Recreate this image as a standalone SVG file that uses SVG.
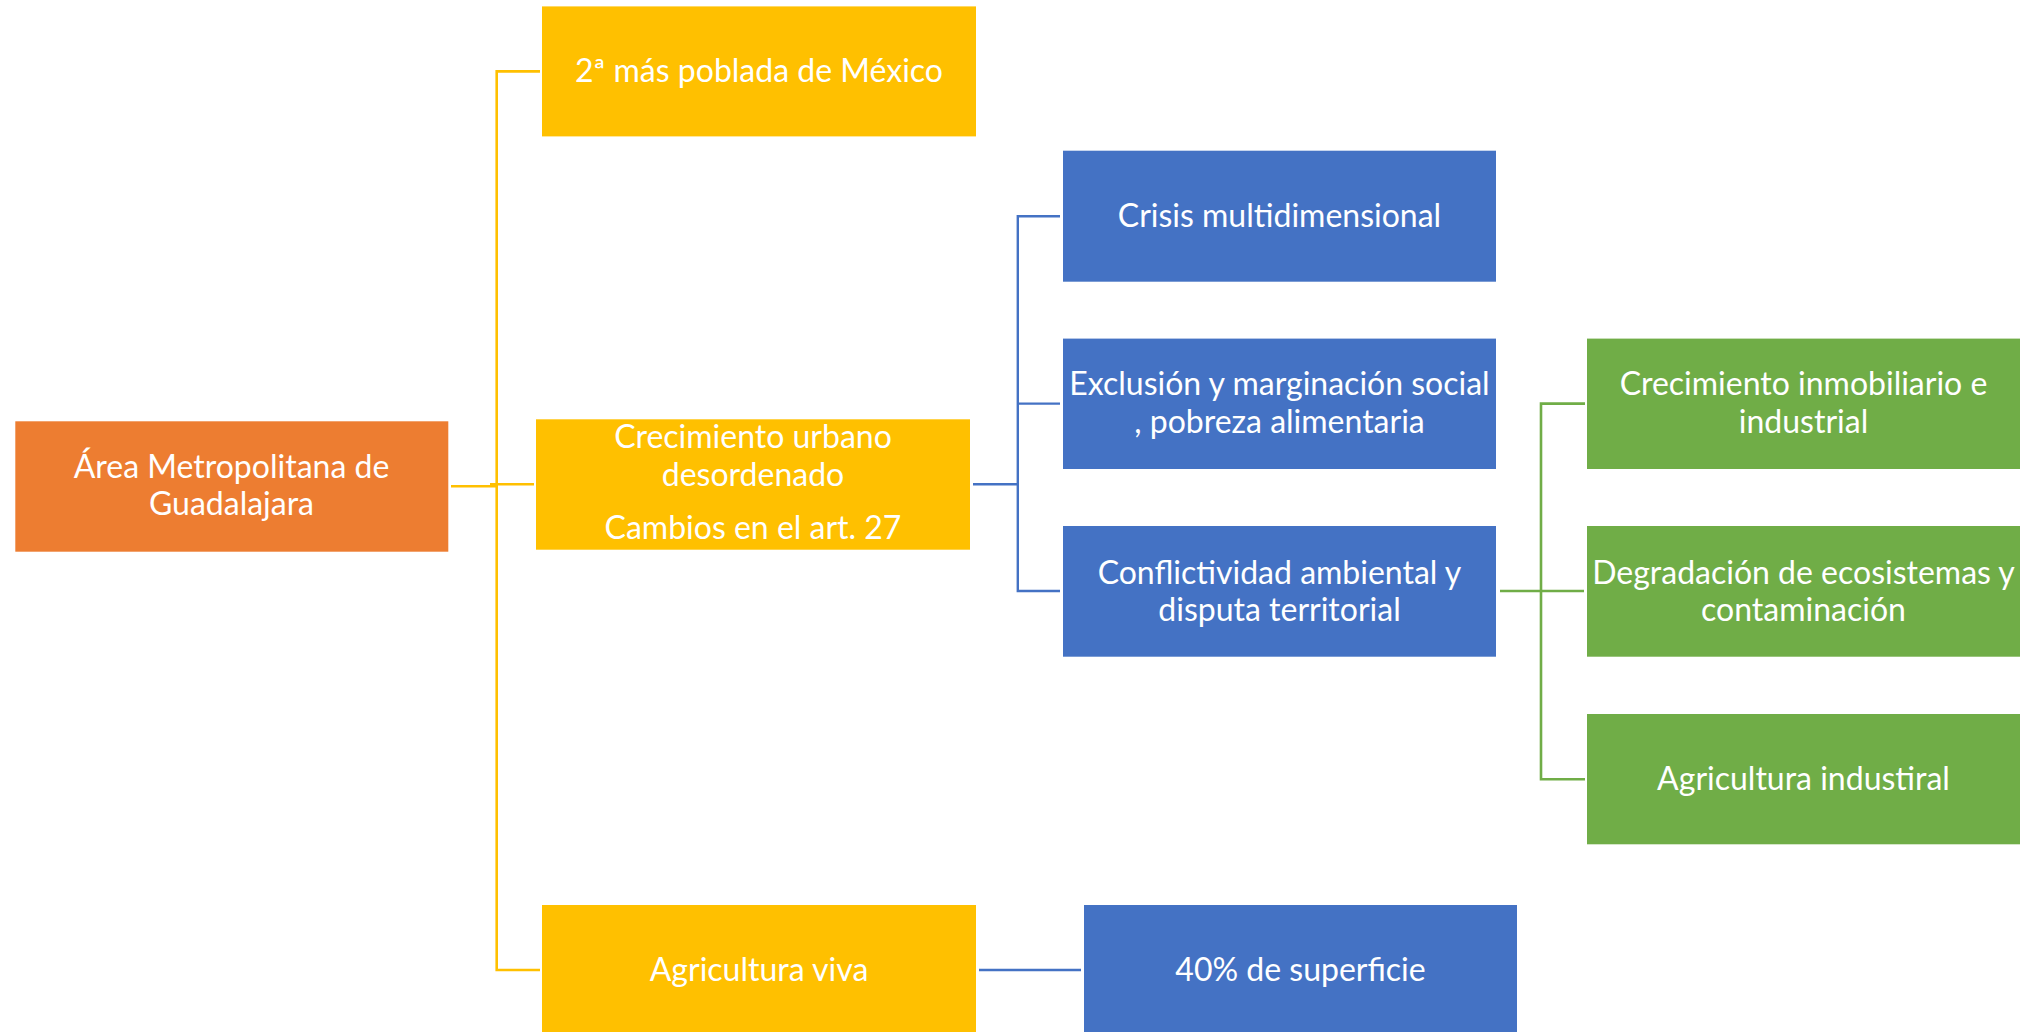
<svg xmlns="http://www.w3.org/2000/svg" width="2027" height="1032" viewBox="0 0 2027 1032">
<style>
.orange{fill:#ED7D31}
.yellow{fill:#FFC000}
.blue{fill:#4472C4}
.green{fill:#70AD47}
text{font-family:Lato,"Open Sans","Liberation Sans",sans-serif;font-size:32px;fill:#ffffff;text-anchor:middle}
.cy{stroke:#FFC000;stroke-width:2.6;fill:none}
.cb{stroke:#4472C4;stroke-width:2.4;fill:none}
.cg{stroke:#70AD47;stroke-width:2.6;fill:none}
</style>
<rect width="2027" height="1032" fill="#ffffff"/>
<g id="connectors">
<path class="cy" d="M451,486.3 H496.7"/>
<path class="cy" d="M490,484.3 H534"/>
<path class="cy" d="M540,71.4 H496.7 V970 H540"/>
<path class="cb" d="M973,484.3 H1017.8"/>
<path class="cb" d="M1060,216.2 H1017.8 V591 H1060"/>
<path class="cb" d="M1017.8,403.6 H1060"/>
<path class="cg" d="M1500,591 H1584"/>
<path class="cg" d="M1585,403.6 H1541 V779.3 H1585"/>
<path class="cb" d="M979,970 H1081"/>
</g>
<g id="n-amg">
<rect class="orange" x="15.3" y="421.3" width="433" height="130.4"/>
<text x="231.5" y="478">Área Metropolitana de</text>
<text x="231.5" y="514.5">Guadalajara</text>
</g>
<g id="n-poblada">
<rect class="yellow" x="542" y="6.4" width="434" height="130"/>
<text x="759" y="82">2ª más poblada de México</text>
</g>
<g id="n-crecimiento-urbano">
<rect class="yellow" x="536" y="419.3" width="434" height="130.4"/>
<text x="753" y="448">Crecimiento urbano</text>
<text x="753" y="486.4">desordenado</text>
<text x="753" y="539">Cambios en el art. 27</text>
</g>
<g id="n-agricultura-viva">
<rect class="yellow" x="542" y="905" width="434" height="131"/>
<text x="759" y="981">Agricultura viva</text>
</g>
<g id="n-crisis">
<rect class="blue" x="1063" y="150.7" width="433" height="131"/>
<text x="1279.5" y="227">Crisis multidimensional</text>
</g>
<g id="n-exclusion">
<rect class="blue" x="1063" y="338.6" width="433" height="130.4"/>
<text x="1279.5" y="394.6">Exclusión y marginación social</text>
<text x="1279.5" y="432.5">, pobreza alimentaria</text>
</g>
<g id="n-conflictividad">
<rect class="blue" x="1063" y="526" width="433" height="130.7"/>
<text x="1279.5" y="583.5">Conflictividad ambiental y</text>
<text x="1279.5" y="621">disputa territorial</text>
</g>
<g id="n-superficie">
<rect class="blue" x="1084" y="905" width="433" height="131"/>
<text x="1300.5" y="981">40% de superficie</text>
</g>
<g id="n-inmobiliario">
<rect class="green" x="1587" y="338.6" width="433" height="130.4"/>
<text x="1803.5" y="394.6">Crecimiento inmobiliario e</text>
<text x="1803.5" y="432.5">industrial</text>
</g>
<g id="n-degradacion">
<rect class="green" x="1587" y="526" width="433" height="130.7"/>
<text x="1803.5" y="583.5">Degradación de ecosistemas y</text>
<text x="1803.5" y="621">contaminación</text>
</g>
<g id="n-agricultura-industrial">
<rect class="green" x="1587" y="714" width="433" height="130.3"/>
<text x="1803.5" y="790">Agricultura industiral</text>
</g>
</svg>
